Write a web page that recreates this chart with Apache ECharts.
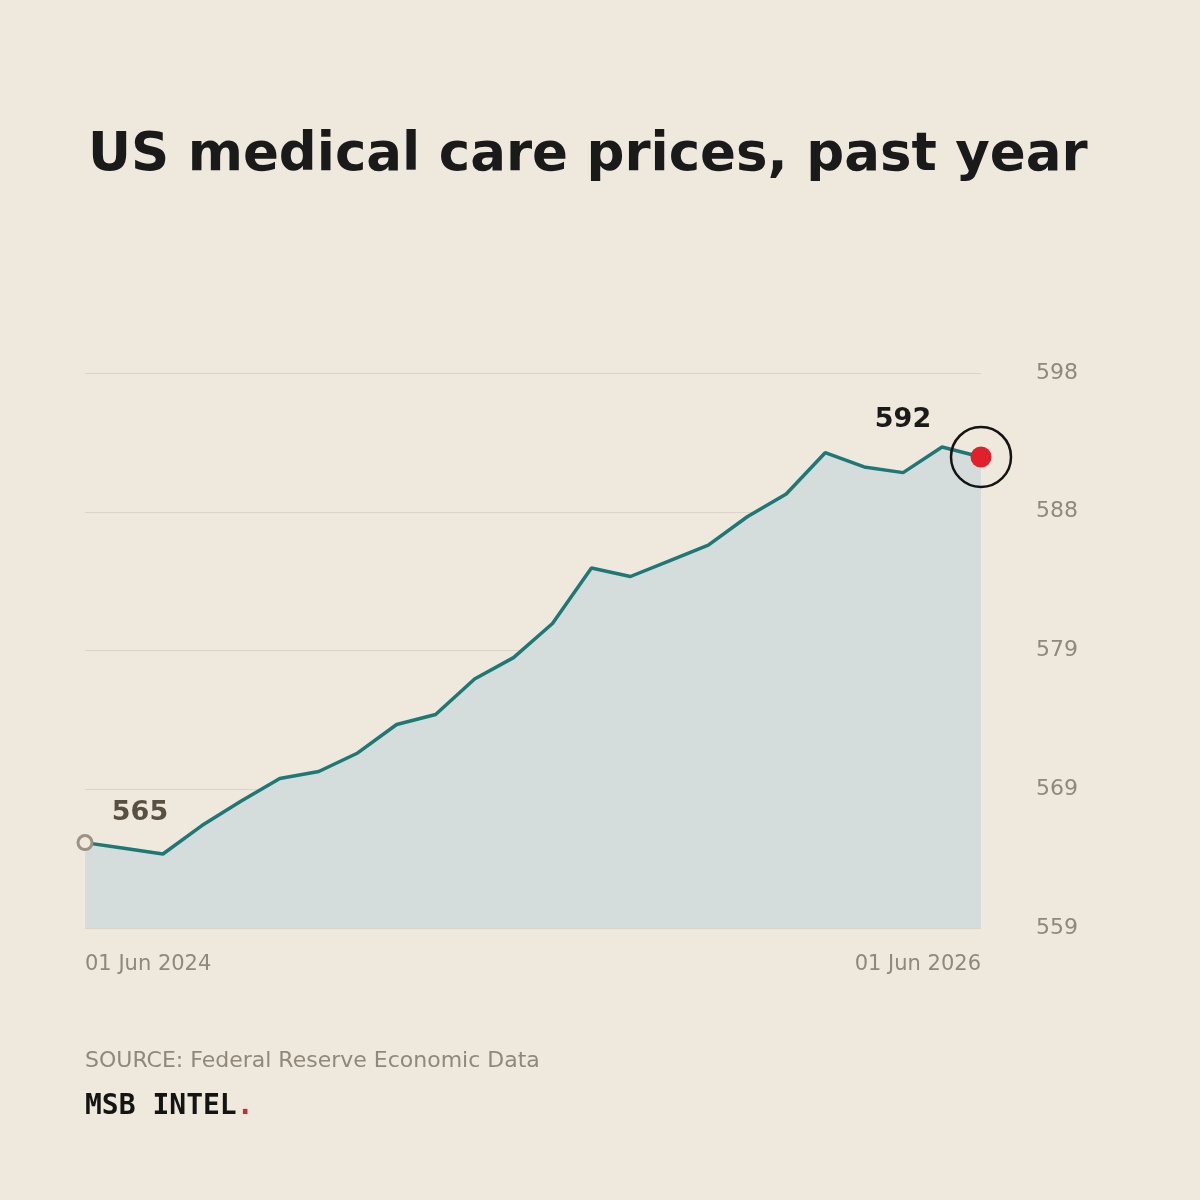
<!DOCTYPE html>
<html>
<head>
<meta charset="utf-8">
<script src="https://cdn.jsdelivr.net/npm/echarts@6/dist/echarts.min.js"></script>
<style>
html,body{margin:0;padding:0;background:#efe8dc;}
#chart{width:1200px;height:1200px;}
</style>
</head>
<body>
<div id="chart"></div>
<script>
const categories = [
  "01 Jun 2024","01 Jul 2024","01 Aug 2024","01 Sep 2024","01 Oct 2024","01 Nov 2024",
  "01 Dec 2024","01 Jan 2025","01 Feb 2025","01 Mar 2025","01 Apr 2025","01 May 2025",
  "01 Jun 2025","01 Jul 2025","01 Aug 2025","01 Sep 2025","01 Nov 2025","01 Dec 2025",
  "01 Jan 2026","01 Feb 2026","01 Mar 2026","01 Apr 2026","01 May 2026","01 Jun 2026"
];
const values = [
  565.0, 564.6, 564.2, 566.2, 567.9, 569.5,
  570.0, 571.3, 573.3, 574.0, 576.5, 578.0,
  580.4, 584.3, 583.7, 584.8, 585.9, 587.9,
  589.5, 592.4, 591.4, 591.0, 592.8, 592.1
];
const yMin = 559, yMax = 598, yInterval = 9.75;
const title = "US medical care prices, past year";
const source = "SOURCE: Federal Reserve Economic Data";

const SANS = "'DejaVu Sans', Verdana, sans-serif";
const MONO = "'DejaVu Sans Mono', monospace";
const last = values.length - 1;
const chart = echarts.init(document.getElementById('chart'));
chart.setOption({
  backgroundColor: '#efe8dc',
  animation: false,
  title: {
    text: title, left: 83, top: 125,
    textStyle: { fontFamily: SANS, fontWeight: 'bold', fontSize: 53, color: '#1a1a1a' }
  },
  grid: { left: 85, right: 219, top: 373, bottom: 272, containLabel: false },
  xAxis: {
    type: 'category', data: categories, boundaryGap: false,
    axisLine: { show: false }, axisTick: { show: false },
    axisLabel: {
      interval: (i) => i === 0 || i === last,
      alignMinLabel: 'left', alignMaxLabel: 'right',
      margin: 26, color: '#8f887b', fontSize: 21, fontFamily: SANS
    },
    splitLine: { show: false }
  },
  yAxis: {
    type: 'value', position: 'right', min: yMin, max: yMax, interval: yInterval,
    axisLine: { show: false }, axisTick: { show: false },
    axisLabel: {
      margin: 55, color: '#8f887b', fontSize: 22, fontFamily: SANS,
      padding: [4, 0, 0, 0],
      formatter: (v) => Math.round(v)
    },
    splitLine: { lineStyle: { color: '#dcd5c7', width: 1 } }
  },
  series: [
    {
      type: 'line', data: values, symbol: 'none',
      lineStyle: { color: '#1e7876', width: 3.5 },
      areaStyle: { color: '#d5dcdc', opacity: 1, origin: 'start' },
      z: 2
    },
    {
      type: 'scatter',
      data: [{
        value: [0, values[0]],
        label: {
          show: true, formatter: () => String(Math.round(values[0])), offset: [55, -30], position: 'inside',
          fontFamily: SANS, fontWeight: 'bold', fontSize: 27, color: '#5a5042', opacity: 1
        }
      }],
      symbol: 'circle', symbolSize: 14,
      itemStyle: { color: '#efe8dc', borderColor: '#9a9282', borderWidth: 3, opacity: 1 },
      z: 5
    },
    {
      type: 'scatter',
      data: [{ value: [last, values[last]] }],
      symbol: 'circle', symbolSize: 60,
      itemStyle: { color: 'rgba(0,0,0,0)', borderColor: '#141414', borderWidth: 2.5, opacity: 1 },
      z: 5, silent: true
    },
    {
      type: 'scatter',
      data: [{
        value: [last, values[last]],
        label: {
          show: true, formatter: () => String(Math.round(values[last])), offset: [-78, -37], position: 'inside',
          fontFamily: SANS, fontWeight: 'bold', fontSize: 27, color: '#1a1a1a', opacity: 1
        }
      }],
      symbol: 'circle', symbolSize: 21,
      itemStyle: { color: '#e0202b', opacity: 1 },
      z: 6
    }
  ],
  graphic: [
    {
      type: 'text', left: 85, top: 1050,
      style: { text: source, font: "22px " + SANS, fill: '#8f887b' }
    },
    {
      type: 'text', left: 85, top: 1093,
      style: {
        text: '{a|MSB INTEL}{b|.}',
        rich: {
          a: { fontFamily: MONO, fontWeight: 'bold', fontSize: 28, fill: '#141414' },
          b: { fontFamily: MONO, fontWeight: 'bold', fontSize: 28, fill: '#d0283a' }
        }
      }
    }
  ]
});
</script>
</body>
</html>
